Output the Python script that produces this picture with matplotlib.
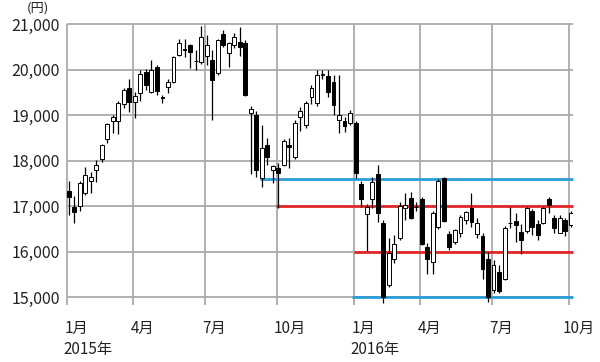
import matplotlib
matplotlib.use("Agg")
import matplotlib.pyplot as plt
import numpy as np

plt.rcParams['font.family'] = ['Noto Sans CJK JP', 'DejaVu Sans']

# Weekly OHLC (Nikkei 225, weeks from Jan 2015 to Oct 2016)
opens = [17330, 16980, 17000, 17290, 17550, 17790, 18030, 18480, 18875, 18875,
         19240, 19590, 19290, 19480, 19950, 19510, 20060, 19400, 19620, 19730,
         20320, 20450, 20540, 20190, 20170, 20300, 20210, 19915, 20780, 20370,
         20540, 20610, 20590, 19040, 19000, 17620, 18340, 17800, 17830, 17900,
         18340, 18080, 18960, 18780, 19400, 19255, 19890, 19865, 19735, 18890,
         18870, 18820, 18820, 17480, 16830, 17150, 17700, 16620, 15270, 15850,
         16310, 16950, 17170, 16990, 17150, 16110, 15780, 16550, 17610, 16380,
         16215, 16400, 16690, 16950, 16385, 16340, 15850, 15155, 15555, 15410,
         16620, 16680, 16435, 16460, 16890, 16605, 16635, 17150, 16750, 16415,
         16690, 16580]
highs = [17560, 17220, 17560, 17850, 17750, 18010, 18360, 18830, 19000, 19300,
         19600, 19790, 19500, 20000, 20010, 20210, 20110, 19440, 19800, 20300,
         20680, 20660, 20570, 20430, 20950, 20760, 20430, 20680, 20870, 20600,
         20800, 20940, 20650, 19200, 19080, 18780, 18490, 17900, 17940, 18480,
         18490, 18900, 19180, 19300, 19660, 19990, 19990, 19990, 19880, 19880,
         18960, 19120, 18870, 17560, 17050, 17650, 17910, 16700, 16300, 16360,
         17100, 17280, 17315, 17100, 17200, 16200, 16900, 17600, 17630, 16450,
         16500, 16800, 16900, 17280, 16750, 16400, 16000, 15810, 15700, 16560,
         16990, 16850, 16600, 16980, 16930, 16700, 16980, 17200, 16800, 16810,
         16750, 16900]
lows = [16800, 16630, 16900, 17250, 17285, 17535, 17980, 18380, 18600, 18580,
        19150, 19070, 18930, 19300, 19550, 19480, 19440, 19260, 19490, 19700,
        20300, 20280, 20030, 19990, 20130, 20090, 18890, 19880, 20500, 20060,
        20480, 20300, 19420, 17710, 17640, 17420, 17900, 17500, 16950, 17880,
        17840, 18030, 18640, 18720, 19250, 19200, 19800, 19400, 19000, 18600,
        18630, 18780, 17610, 16990, 16020, 16950, 16650, 14870, 15230, 15750,
        16250, 16690, 16720, 16900, 16140, 15520, 15520, 16500, 16650, 16030,
        16170, 16330, 16600, 16550, 16300, 15390, 14900, 15100, 15100, 15380,
        16530, 16220, 15960, 16420, 16365, 16250, 16600, 16850, 16400, 16400,
        16350, 16550]
closes = [17200, 16870, 17500, 17680, 17650, 17910, 18340, 18800, 18960, 19260,
          19550, 19290, 19420, 19910, 19660, 20000, 19530, 19380, 19730, 20280,
          20575, 20440, 20390, 20185, 20720, 20540, 19770, 20650, 20540, 20575,
          20720, 20500, 19440, 19140, 17800, 18270, 18080, 17880, 17730, 18440,
          18290, 18830, 19090, 19270, 19600, 19880, 19900, 19510, 19230, 19000,
          18770, 19040, 17720, 17150, 16980, 17530, 16840, 15000, 15980, 16180,
          17010, 17020, 16730, 16980, 16170, 15830, 16860, 17550, 16670, 16110,
          16470, 16765, 16875, 16655, 16620, 15620, 15000, 15700, 15140, 16510,
          16640, 16580, 16250, 16950, 16545, 16365, 16950, 17030, 16530, 16750,
          16450, 16860]

# Month ticks: week index of first week of each labelled month
tick_weeks = [0, 12, 25, 38, 52, 64, 77, 91]
tick_labels = ['1月', '4月', '7月', '10月', '1月', '4月', '7月', '10月']
year_labels = {0: '2015年', 52: '2016年'}

y_ticks = [15000, 16000, 17000, 18000, 19000, 20000, 21000]

# Support / resistance lines
blue_levels = [17600, 15000]
blue_starts = [34.7, 51.3]
red_levels = [17000, 16000]
red_starts = [37.6, 51.7]

fig = plt.figure(figsize=(6.0, 3.62), dpi=100)
ax = fig.add_axes([67/600, 1 - 305/362, 506/600, 281/362])

x = np.arange(len(opens))
o = np.array(opens); h = np.array(highs); l = np.array(lows); c = np.array(closes)

xmin, xmax = -0.3, 91.4
ax.set_xlim(xmin, xmax)
ax.set_ylim(14830, 21000)

grid_c = '#aaaaaa'
for yv in y_ticks:
    ax.hlines(yv, xmin, xmax, color=grid_c, lw=1.3, zorder=1, clip_on=False)
for tw in tick_weeks:
    ax.vlines(tw - 0.3, 14830, 21000, color=grid_c, lw=1.3, zorder=1, clip_on=False)

for lv, st in zip(blue_levels, blue_starts):
    ax.hlines(lv, st, xmax, color='#2a9dd8', lw=2.0, zorder=2, clip_on=False)
for lv, st in zip(red_levels, red_starts):
    ax.hlines(lv, st, xmax, color='#e3262a', lw=2.0, zorder=2, clip_on=False)

ax.vlines(x, l, h, color='black', lw=0.9, zorder=3)
up = c >= o
bottoms = np.minimum(o, c)
heights = np.maximum(np.abs(c - o), 12)
ax.bar(x[up], heights[up], bottom=bottoms[up], width=0.7,
       facecolor='white', edgecolor='black', linewidth=0.7, zorder=4)
ax.bar(x[~up], heights[~up], bottom=bottoms[~up], width=0.7,
       facecolor='black', edgecolor='black', linewidth=0.7, zorder=4)

for s in ax.spines.values():
    s.set_visible(False)
ax.set_xticks([])
ax.set_yticks(y_ticks)
ax.set_yticklabels([f'{v:,}' for v in y_ticks], fontsize=11.5, color='#222222')
ax.tick_params(axis='y', length=0, pad=5)

for tw, lab in zip(tick_weeks, tick_labels):
    xpos = tw - 1.5 if tw == 91 else tw - 0.8
    ax.text(xpos, -0.085, lab, transform=ax.get_xaxis_transform(),
            ha='left', va='center', fontsize=11, color='#222222')
for tw, lab in year_labels.items():
    ax.text(tw - 1.0, -0.16, lab, transform=ax.get_xaxis_transform(),
            ha='left', va='center', fontsize=11, color='#222222')

fig.text(38/600, 1 - 8/362, '(円)', ha='center', va='center',
         fontsize=9.5, color='#222222')

fig.savefig('out.png', dpi=100)
